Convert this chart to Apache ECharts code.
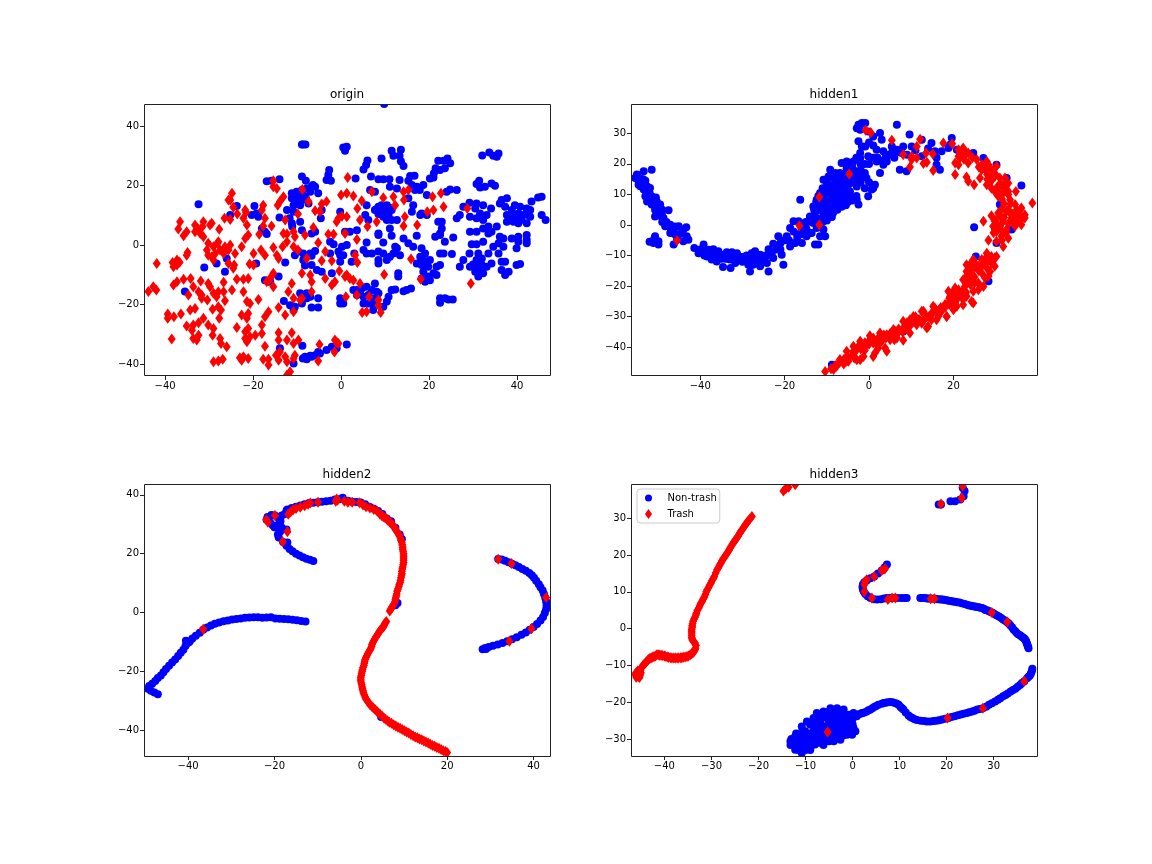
<!DOCTYPE html>
<html>
<head>
<meta charset="utf-8">
<title>t-SNE of hidden layers</title>
<script src="https://cdn.jsdelivr.net/npm/echarts@6/dist/echarts.min.js"></script>
<style>
  html, body { margin: 0; padding: 0; background: #fff; }
  #chart { width: 1152px; height: 864px; }
</style>
</head>
<body>
<div id="chart"></div>
<script>
// values, [x, y] in axis units
const panelTitles = ['origin', 'hidden1', 'hidden2', 'hidden3']

const originNonTrash = [
  [9.8,47.4],[-8.9,33.8],[-8.6,33.8],[-8.1,33.8],[0.5,32.8],[1.3,33],[0.9,31.7],[9.2,29.1],[11.5,31.7],[11.9,30],[13.6,32],[13.3,30],[13.6,28.2],[14.2,26.6],[6,28.4],[5.7,26.9],[5.1,25.4],
  [-2.7,25.2],[-2.9,23.5],[-3.3,21.9],[-2.3,21.6],[3.3,22.4],[6.8,23],[8.5,22.1],[9.6,22.1],[11,22.1],[13.3,21.9],[-8.9,23],[-8,21.6],[-6.4,20.2],[-5.9,19.6],[-5.2,17.4],[-16.9,21.4],[-14,22.1],[-15.8,21.6],
  [15.7,23.2],[16.7,23.3],[15.3,21.6],[16.1,20.2],[17.2,19.6],[18.7,20.2],[17.9,18.5],[16.8,18.5],[22.1,28.3],[23.3,28.3],[24.2,29.1],[24.8,27.5],[23.6,25.8],[22.5,25.2],[21.5,25.8],[21.1,24.1],[20.2,22.4],[21,22.7],
  [32.1,30.1],[33.7,31.1],[34.6,30],[35.8,30.8],[35.4,29.7],[31.4,21.6],[30.8,20.5],[31.6,19.3],[32.7,19.6],[34.2,20.7],[35,19.9],[26.3,18.5],[24,17.9],[24.8,18.7],[19.5,16.8],
  [7.7,11.8],[8.5,12.9],[9.2,13.4],[10.4,13.4],[11.5,11.8],[10.8,10.1],[9.6,9.5],[8.5,10.4],[9.6,11.8],[8.9,11.5],[10.4,11.5],
  [-11.2,17.4],[-10.1,17.9],[-8.9,17.4],[-8.2,16.2],[-11.2,15.7],[-10.1,15.7],[-8.9,15.1],[-8,15.7],[-10.8,13.4],[-9.3,13.4],[-7,17.9],[-6.7,19.6],[-7.8,19],[-8.9,18.5],[-7.4,14],
  [-32.4,13.7],[-23.7,13.1],[-25.2,10.1],[-19.7,13.1],[-20.3,10.1],[-18.8,9.5],[-19.2,10.6],[-14,9.3],[-12.3,11.8],[-10.8,11.2],[-11.7,9],[-11.2,7.3],[-11.1,6.2],[-9.3,7.8],[-8.9,5],[-18,5.6],[-16.9,3.7],[-17.3,4.5],[-6.7,3.9],[-5.9,4.5],[-4.6,9],[-4.4,11.8],[-0.2,11.2],
  [-10.5,-3.4],[-9.7,-2.2],[-8.6,-2.8],[-7,-2.8],[-5.9,-2],[-6.7,-3.6],[-12.7,-5.9],[-8.2,-6.9],[-6.7,-6.7],[-5.5,-8.4],[-4.4,-9],[-2.1,-9.5],[-8.6,-5],
  [-2.5,1.1],[-1.7,0.3],[0.2,-0.6],[1.3,0],[-0.6,-2.2],[-0.2,-3.4],[0.5,-3.4],[-0.2,-5.6],[-2.5,-2.8],[0.9,4.5],[2,4.5],[3.6,5],
  [2.4,-5.6],[3,-2.8],[5.1,-1.7],[5.8,-2.8],[7,-2.8],[8.5,-2.2],[9.6,-2.8],[8.5,-5],[8.5,-6.2],[10.4,-5],[11.1,-3.9],[12.7,-1.1],[12.3,-0.6],[11.9,-2.8],[13.4,-3.4],
  [5.8,0.9],[8.5,3.9],[9.6,0.9],[11.5,3.1],[8.5,3.4],[14.2,2.2],[15.3,0.6],[16.4,-0.6],[17.2,3.1],[11.1,5.6],[12.7,8.4],[11.5,8.4],[10.4,8.4],[5.5,10.1],[6.2,8.4],[5.8,13.4],[7.7,17.9],[6.6,18.5],[11.1,19.6],[12.7,19],[15.3,15.7],[16.4,13.4],[16.1,11.2],[18,10.1],[18.3,10.6],[19.5,10.1],
  [18.3,-1.1],[19.1,-2.8],[18,-3.9],[18.7,-5],[17.2,-6.2],[18.3,-6.7],[19.5,-6.2],[20.2,-5],[19.8,-7.3],[18.7,-9],[19.8,-10.6],[21,-9.5],[21.7,-10.1],[22.5,-6.7],[21.7,-7.3],[19.1,-12.3],[20.2,-11.8],[18.3,-11.2],[22.5,-2.8],[23.3,-2.8],[25.2,-3],[21.4,2.8],[22.5,3.9],[23.6,1.1],[25.5,2.5],[22.1,7.8],[22.9,7.8],[22.9,5.6],[22.5,3.4],
  [22.5,-17.9],[23.6,-17.9],[24.4,-18.3],[25.4,-18.3],[22.5,-19.4],[14.2,-15.5],[14.9,-15.1],[15.9,-14.6],[11.5,-15.1],[12.3,-14.9],[10.8,-17.4],[10.4,-19],[13,-9.5],[13,-10.6],[7.7,-12.9],
  [3.6,-15.1],[4.7,-14.6],[5.8,-14],[7,-15.1],[8.1,-15.7],[3.6,-16.8],[5.1,-17.4],[6.2,-16.8],[7,-17.9],[7.7,-19.6],[7.3,-21.8],[8.5,-16.2],[4.3,-16.2],[2.8,-15.1],[6.2,-19.6],[5.1,-19.6],[-0.2,-17.9],[0.5,-19.6],[-0.2,-19.6],[7,-19.6],[9.6,-20.7],[8.1,-17.9],
  [-9.3,-16.2],[-7.8,-17.9],[-7,-17.4],[-5.2,-17.9],[-13,-18.8],[-11.6,-20.2],[-10.5,-20.7],[-8.9,-19.6],[-6.7,-21],[-5.2,-21],[-10.8,-21.8],[-7.8,-16.2],
  [-35.5,-15.6],[-31.1,-7.5],[-28.3,-6.2],[-26,-4.5],[-26.4,-9],[-19.3,-6.2],[-14.2,-10.6],[-16.1,-12.3],[-17.3,-11.8],
  [-8.7,-38.1],[-8.2,-37.5],[-7,-37.2],[-5.9,-37],[-4.8,-36.4],[-3.3,-35.3],[-2.1,-34.2],[-1,-34.7],[1.3,-33.4],[-7.8,-38.4],[-6.7,-37.5],[-5.2,-35.9],[-8.8,-33.8],[-13.9,-34.7],[-10.8,-39.8],
  [27,10.1],[26.3,9],[27.8,12.9],[29.2,14.2],[30.8,14],[32.3,13.4],[30.5,12.3],[31.6,10.6],[33.1,10.1],[34.1,12.3],[29.3,9.5],[30.8,9],[32.3,8.4],[29.3,4.5],[30.8,4.5],[32.3,5.6],[33.5,6.2],[34.2,4.5],[33.5,3.9],[35.4,6.2],
  [36.5,15.1],[37.7,15.7],[36.1,14],[37.3,12.9],[39.5,13.4],[40.7,12.9],[42.2,12.3],[43.3,14.6],[44.8,16],[45.6,16.2],[45.6,10.1],[46.5,8.4],[36.1,2.8],[35.8,0.6],[34.6,-0.6],[36.9,2.2],[38.8,2.2],[40.3,2.8],[42.2,3.4],[42.2,1.7],[40.3,1.1],[42.2,0.6],[39.9,-1.1],
  [37.7,7.8],[39.2,7.8],[40.3,7.3],[42.2,7.3],[37.7,10.1],[39.2,9.5],[41.4,10.1],[42.6,10.1],[43,11.8],[40.3,10.6],[38.8,11.8],[29.7,0.3],[30.8,0.3],[32.3,1.1],[29.2,-2.8],[31.2,-2.8],[33.5,-2.8],[35.8,-2.8],[36.9,-0.6],
  [27.8,-5],[27,-7.3],[29.3,-7.3],[30.8,-5],[32,-4.5],[30.8,-7.3],[32,-6.7],[33.1,-7.3],[31.2,-10.6],[32.3,-9.5],[30.5,-9],[34.2,-6.2],[36.5,-5.6],[37.3,-5.6],[36.5,-8.4],[38.1,-9],[37.3,-10.1],[39.9,-6.7],[40.7,-6.4],
  [8,12],[9,12.5],[10,12.5],[11,12.5],[9,10.5],[10,10.5],[-10,16.5],[-9.5,14.5],[40,9],[41,8.5],[43,9.5],[38.5,8.8],[31,-6],[31.5,-8.5],[30,-6.5]
]
const originTrash = [
  [-43.8,-15.6],[-42.7,-14],[-42,-15.1],[-41.9,-6.2],[-38.3,-5.9],[-37.3,-5],[-38.1,-7.3],[-37.3,-6.7],[-36.7,-5.8],[-38.1,-13.4],[-37.3,-12.3],[-35.8,-11.5],[-34.2,-11.2],[-34.7,-16.8],[-31.7,-16.8],[-33.6,-14],[-32.4,-15.7],[-31.9,-12.1],[-30.2,-12.9],[-29.8,-14],[-31.7,-17.9],[-29,-16.2],[-27.9,-15.7],[-26.7,-15.7],[-28.3,-17.4],[-30.4,-18.5],[-26.4,-18.7],[-26.7,-12.5],[-24.8,-15.1],[-23.7,-11.5],[-22.2,-11.5],[-21.1,-11.2],[-22.2,-15.7],[-21.4,-19],[-20.7,-19.6],[-18.8,-18.3],
  [-39.4,-23.2],[-39.4,-24.6],[-38,-24.1],[-36.4,-23.2],[-34.3,-21.8],[-33.2,-21.3],[-29.2,-21.6],[-27.9,-20.7],[-27.3,-21.8],[-35.1,-27.2],[-33.6,-26.9],[-32.4,-26.1],[-31.3,-24.6],[-30.2,-26.9],[-29,-28],[-27.7,-24.6],[-33.9,-28.6],[-32.4,-30.3],[-33.6,-31.4],[-32.8,-31.9],[-38.5,-31.6],[-29.2,-30.3],[-27.5,-31.4],[-27.3,-33.1],[-26,-34.2],[-23.7,-27.7],[-22.6,-23.5],[-21.4,-24.6],[-21.1,-23],
  [-29,-39.2],[-27.9,-39],[-26.9,-38.4],[-23,-37.9],[-22.2,-37.5],[-22.6,-38.7],[-21.1,-38.1],[-17.7,-38.4],[-16.5,-38.4],[-16.5,-40.3],[-17.3,-34],[-21.8,-29.1],[-21.1,-28],[-21.8,-31.4],[-20.7,-30.8],[-21.4,-32.5],[-19.5,-30.3],[-18,-29.7],[-18,-26.9],[-17.3,-24.1],[-16.5,-22.4],[-14.2,-21],[-12.7,-23.5],[-10.8,-22.4],[-9.3,-18.5],[-6.7,-15.7],[-6.7,-12.3],[-7,-10.1],[-8.9,-9.5],
  [-36.6,7.8],[-37,5.4],[-35.8,3.1],[-35.1,4.5],[-33.2,6.7],[-33.2,4.5],[-31.3,7.8],[-29.8,6.7],[-29.4,7.3],[-32,3.9],[-31.3,2.8],[-27.7,5.3],[-26.5,9],[-25.2,8.6],[-23.6,10.4],[-25.2,15.1],[-24.8,17.4],[-25.6,15.1],[-24.5,12.7],[-21.8,11.8],[-22.2,9],[-21.4,6.7],[-21.6,10.9],[-17.7,13.4],[-18,11.8],[-17.3,9],[-17.7,6.4],[-15.8,6.4],[-18.6,3.6],[-21.1,3.4],[-21.8,2.2],[-22.6,-0.6],[-34.9,-2.5],[-35.1,-3.4],
  [-30.2,0.6],[-29,-0.6],[-28.1,0.6],[-26.4,-0.6],[-30.2,-3.4],[-29,-5],[-26.7,-2.8],[-25.2,0],[-24.1,-2.8],[-24.3,-6.7],[-24.5,-7.8],[-25.6,-6.2],[-20.8,-6.4],[-19.9,-6.7],[-19.9,-2.8],[-18.2,-1.7],[-17.3,-3.4],[-15.4,-0.8],[-14.6,-3.4],[-14.2,-4.5],[-13.3,-0.6],[-12.3,1.1],[-13.1,3.9],[-12.3,3.7],[-10.8,4.5],[-10.5,2.8],[-8.2,3.4],[-10.8,-0.6],[-9.8,-1.7],[-7.8,-4.5],[-4.4,-5.3],[-5.2,0.8],[-6.3,5.9],[-2.9,3.6],[-1.7,3.6],[-3.6,-2.2],[-2.1,-5.3],
  [-3.6,-11.2],[-2.1,-13.4],[-1.4,-12.3],[-0.4,-8.7],[1.3,-10.1],[2,-11.2],[2.8,-11.8],[4.3,-12.9],[0.9,-10.6],[3.6,-16.8],[1.1,-17.4],[6.4,-17.4],[8.5,-18.5],[8.5,-20.2],[4.8,-22.7],[5.8,-22.4],[9,-22.7],[9.8,-9.9],[3.7,-5.9],[3.2,-3.4],[0.9,3.9],[3.6,1.9],[4.3,8.4],[4.7,14.9],[3.7,12.3],[6,6.2],[8.1,7.8],[1.3,9.5],[0.2,9.7],[-0.6,9],[-1,7.8],[0,16.8],[1.3,17.4],[2.8,16.5],[1.5,22.7],[7,17.9],[9.6,15.9],[11.9,16.2],[12.3,13.4],[14.2,17.9],[15.3,18.5],[14.3,15.1],[14.5,9.5],[14.2,6.4],[17.3,6.7],[15.9,-4.7],[18.1,-11.5],[19.6,11.2],[21,11.8],[20.8,16.2],[22.7,17.4],[23.3,12.9],[28.7,12.3],[29.5,-12.9],
  [-15.4,21.6],[-15.4,19.6],[-14.6,19],[-14.4,13.4],[-13.1,16.2],[-13.9,14.6],[-12.7,8.4],[-9.8,10.4],[-8.8,18.7],[-7.4,14.6],[-5.9,11.5],[-4.8,11.2],[-4.4,13.8],[-3.3,14.6],[-15.4,-9.5],[-15.8,-10.6],[-16.5,-12],[-16.9,-12.3],[-15.4,-14],[-11.2,-12.9],[-12,-15.7],[-8.9,-17.9],[-10.8,-17.9],
  [-14.2,-29.5],[-14.2,-31.9],[-11.2,-29.5],[-12.3,-31.9],[-10.8,-33.1],[-9.7,-31.9],[-14.8,-37],[-13.9,-35.9],[-12.7,-37.5],[-12.3,-39.2],[-10.5,-37],[-10.8,-38.1],[-14.2,-38.7],[-11.6,-42.6],[-12.3,-43.7],[-4.9,-33.4],[-5.2,-39],[-1.4,-31.9],[-1,-32.7],[-1.5,-35.9],[-0.6,-33.1],
  [-30.5,-1.7],[-28.6,-2.8],[-27.5,-1.7],[-25.6,-1.7],[-27.9,1.1],[-29.4,-3.9],[-32.6,5.6],[-31.5,6.2]
]

const hidden1NonTrash = [
  [-51.5,18.1],[-53.4,17.6],[-55,16.5],[-55.4,15.4],[-54.6,14.3],[-54.2,12.7],[-54.6,13.2],[-53,13.2],[-51.9,12.1],[-53.4,11.6],[-53,9.4],[-51.5,9.4],[-52.6,7.7],[-50.3,7.7],[-51.5,6.7],[-49.5,6.7],[-50.7,5],[-49.1,3.9],[-47.5,4.8],[-50.7,2.8],[-48.7,2.3],[-48.3,-0.4],[-47.1,0.1],[-46.3,-1.5],[-45.1,-0.4],[-43.3,-0.7],[-44.4,-2.6],[-43.2,-3.7],[-42.8,-4.8],[-45.5,-4.8],[-46.3,-6.4],[-51.1,-5.9],[-49.9,-5.3],[-50.7,-3.7],[-49.9,-6.4],[-44,-5.3],[-47.1,-2.6],[-52,-5.5],[-50.9,-4.6],[-54,15],[-53,14.5],[-52,10.5],[-50.5,9],[-49,1],
  [-54.5,15.5],[-53.5,15],[-52.5,12.5],[-52.5,10],[-51.5,8],[-50.5,6],[-49,5],[-49.5,3],[-48,1],[-47,-1],[-46,-3],[-45,-3],[-44,-1.5],[-46,-0.5],
  [-41.4,-7.5],[-40.4,-9.2],[-39.2,-6.4],[-39.6,-8.3],[-38,-8.1],[-36.9,-7.9],[-35.7,-8.6],[-38.4,-10.3],[-37.3,-11.3],[-36.1,-11.9],[-34.5,-9.7],[-33.7,-8.9],[-32.5,-8.9],[-31.3,-9.2],[-30.9,-10.3],[-32.9,-11.3],[-31.7,-12.4],[-34.6,-13.7],[-32.8,-14.1],[-29.4,-11.3],[-28.6,-13],[-28.2,-15.2],[-27.8,-9.2],[-27,-8.6],[-25.8,-9.7],[-26.6,-11.3],[-25.8,-13.5],[-23.8,-15.2],[-24.2,-12.4],[-22.7,-10.8],[-20.7,-9.7],[-20.3,-13],[-23.8,-7.9],[-22.7,-6.1],[-21.5,-3.7],[-37,-10],[-35,-11],[-33.5,-11],[-30,-12],[-27.5,-13],[-26,-12],[-24.5,-10],
  [-40,-8],[-39,-10],[-38,-10],[-37,-9],[-36,-10],[-35,-10],[-34,-11],[-33,-10],[-32,-10],[-31,-11],[-30,-10.5],[-29,-10],[-28,-11],[-27,-10],[-26,-10],[-25,-11.5],[-24,-10],[-23,-9],[-22,-8],[-21,-6],[-20,-5],[-21,-8],
  [-18.7,-7],[-19.5,-3.7],[-17.9,-2.1],[-17.9,1.2],[-16.7,1.2],[-18.7,-1],[-17.5,-5.9],[-15.9,-5.9],[-14.8,-3.7],[-14,-2.6],[-12.4,-1],[-10.8,-1.5],[-10.4,-3.7],[-12,-6.4],[-12.8,-6.4],[-14,2.8],[-12.8,3.9],[-13.2,6.1],[-12.4,8.3],[-11.6,10.5],[-12.4,6.7],[-11.2,5.6],[-10,5.6],[-8.4,5.6],[-9.6,2.8],[-8.8,2.6],[-13.2,0.7],[-14.8,-1.5],[-16.3,8.3],[-10.8,14.8],[-9.2,18.1],[-9.6,15.9],[-8.4,15.4],[-10,12.6],[-9.2,10.5],[-7.7,13.2],[-6.9,17],[-6.5,20.3],[-5.3,20.8],[-7.7,9.4],[-6.1,8.3],[-4.5,9.4],[-2.9,8.3],[-2.5,6.7],[-0.2,9.4],[1.4,13.2],[0.6,11.6],[-1.3,15.9],[-2.9,12.6],[-2.9,15.9],[-5.3,18.6],[-3.7,20.8],[-2.1,21.9],[-0.6,15.4],[-3.7,18.1],[-4.5,13.7],[-6.9,12.6],[-10.8,7.2],[-11.2,2.3],[-13.6,-2.6],[-11.6,-3.7],[-8,11],[-7,11],[-6,12],[-9,8],[-8,7],[-10.5,9],[-8,15],[-7,15],[-5.5,15],[-4,16],[-11,8],[-15,-1],[-16,-3],[-17,-4],[-15,1],
  [-19,-5],[-18,-6],[-17,-3],[-16,-1],[-15.5,0.5],[-14.5,1],[-13.5,1.5],[-13,3],[-12,2],[-11,1],[-10,1.5],[-9,3.5],[-13,5],[-12,5],[-11,4.5],[-10.5,3.5],[-9.5,4.5],[-8.5,4],[-7.5,5],[-6.5,6],[-5.5,6.5],[-12.5,7.5],[-11.5,7],[-10.5,6.5],[-9.5,7],[-8.5,6],[-7.5,7],[-6.5,7.5],[-5,7.5],[-4,8],[-3,9.5],[-12,9.5],[-11,10],[-10,10.5],[-9,11.5],[-8.5,10],[-7.5,9],[-6.5,9.5],[-5.5,10],[-4.5,11],[-11,12],[-10,14],[-9,13],[-8,13],[-7,14],[-6,14],[-5,13],[-9,16],[-8,17],[-7,16],[-6,16.5],[-5,17],[-4,17.5],[-3,17],[-2,18],[-1,17],[0,14],[1,12],[-1,12],[-2,14],[-3,14],[-4,19],[-5,20],[-3,22],[-2,20],[-1,20],[0,20],[1,22],[2,22],[3,21],[4,22],[5,23],[6,22],[7,24],
  [-2.5,32.8],[-1.7,33.4],[-0.9,33.4],[-2.9,31.7],[-2.1,31.2],[-0.2,30.6],[1,29],[2.6,30.1],[3,27.9],[6.6,32.8],[9.6,29.6],[-2.5,27.4],[-1.7,25.7],[-0.9,25.7],[-2.1,23.6],[-0.2,22.5],[1.8,24.6],[3.4,24.1],[1.8,20.8],[3.4,19.7],[4.2,20.8],[2.6,17],[5.4,25.7],[6.6,24.6],[8.1,25.7],[10.1,25.7],[12.5,27.9],[14.8,26.8],[15.6,24.1],[17.2,24.1],[18.8,25.2],[19.6,28.5],[19.2,26.3],[7.3,18.1],[8.9,17.6],[7.7,23.6],[12.5,22.5],[16.8,18.1],[16,19.7],[20.8,24.6],[24.7,23.6],[27.1,21.9],[30.2,19.7],[32.6,15.4],[36.1,12.9],[31,6.7],[24.9,-0.7],[25.3,-10.3],[28.3,-18.4],[33.8,-1.5],[30.2,-5.9],[-8.8,-45.7],[8.1,-34.8],[0,27],[1,26],[4,23],[5.5,24],[9,23],[11,24.5],[14,25],[16,22]
]
const hidden1Trash = [
  [-45.5,-5.1],[-16.5,-0.2],[-11.8,0.1],[-11.8,9.2],[-4.7,16.7],[-0.8,31],[0.4,30.3],[5.4,27.7],[8.1,23],[10.1,22.5],[11.3,21.9],[9.7,19],[10.1,21.4],[12.1,28.1],[11.3,25.7],[13.5,23.6],[15.1,23.2],[12.9,20.1],[13.7,20.5],[15.2,17.8],[17.6,26.8],[19.7,26.6],
  [20.4,20.3],[21.2,24.6],[22.3,25.2],[23.5,23.6],[21.5,21.9],[21.2,19.7],[23.5,20.3],[20.4,16.5],[23.1,15.7],[23.5,14.3],[24.9,13.2],[25.5,21.4],[26.7,19.7],[27.9,20.8],[27.5,18.1],[26.3,15.4],[27.9,13.2],[29,18.1],[30.2,19.2],[29.8,15.9],[31,15.4],[31.8,13.2],[30.2,12.1],[30.6,9.4],[33,13.7],[31.8,10.5],[34.8,11],[33.4,8.3],[38.7,7.2],[34.6,6.7],[36.1,5.6],[31.4,5],[32.6,4.5],[30.6,3.9],[29.8,1.2],[31.8,1.2],[33.8,2.3],[35,3.9],[36.9,3.4],[36.1,2.3],[27.1,1.2],[29.4,-0.4],[30.2,-2.1],[32.6,-1.5],[34.6,-0.4],[36.1,0.1],[31.4,-3.7],[28.3,-5],[30.2,-5.3],[31.8,-7],[33,-4.3],[28,15],[29,12],[33,11],[32,7],[34,1],[30.5,-0.5],
  [22,23],[22.5,21.5],[24.5,22],[26,19],[28.5,19],[28,16.5],[29,14.5],[30,16.5],[31,13.5],[30.5,11],[32,12],[33,10],[31.5,8.5],[33.5,7],[35,5],[33,5],[31,3],[29,3],[32,2.5],[34,3.5],[35.5,2],[33,0.5],[31,-1],[29.5,-2.5],[35,0.8],[30,1.5],[31.5,-5],[32.5,-2.5],
  [29,15.4],[31,12.7],[32.6,11.6],[29.8,11],[34.2,2.3],[35.8,1.2],[36.9,2.3],[31,-0.4],[29.8,-1.5],[31.8,-2.6],[35.8,5],[33.4,3.9],[26.7,18.1],[28.3,19.7],[23.1,23.6],[21.2,22.5],[32.2,15.4],
  [29.8,-10.8],[29,-12.4],[27.9,-10.3],[26.7,-11.3],[25.1,-12.4],[23.9,-13],[23.1,-15.2],[24.3,-16.2],[26.7,-15.7],[27.9,-14.1],[28.7,-15.2],[27.5,-17.3],[25.9,-19],[23.5,-18.4],[22.7,-20.1],[24.7,-21.7],[23.1,-23.3],[21.2,-21.2],[20,-21.7],[19.2,-23.3],[18.8,-25.5],[20.8,-26.6],[22.3,-24.4],[24.3,-25],[20.4,-23.9],[18.4,-29.9],[15.6,-27.2],[16.4,-29.9],[14.8,-31],[12.9,-28.2],[13.3,-30.4],[11.7,-31],[10.5,-31.5],[9.7,-31],[8.1,-33.7],[9.3,-33.2],[12.5,-32.1],[14,-33.2],[6.2,-34.8],[4.2,-35.9],[5,-37.5],[3.8,-40.2],[2.2,-37],[0.2,-37.5],[-0.6,-39.1],[1.4,-41.9],[-2.5,-39.7],[-3.7,-41.3],[-1.3,-43],[-5.3,-43],[-2.9,-44.1],[-6.9,-44.6],[-7.7,-46.2],[-8.4,-47.3],[-10.4,-47.9],[8.1,-37.7],[29,-10.3],[25.9,-13.5],[22.3,-21.7],[20.4,-25.5],[16.8,-27.7],[11.3,-32.6],[2.2,-40.2],[1,-38.6],[-1.7,-40.2],[-4.9,-44.6],[-6,-45.5],[-3.5,-43.5],[-1,-41],[0,-39],[2,-39.5],[3,-38],[5,-35.5],[7,-34],[9,-32],[11,-30],[13,-29],[15,-29],[17,-28.5],[19,-26],[21,-24],[23,-22],[24,-19.5],[25,-17],[26,-15],[27,-13],[28,-12],[21.5,-22.5],[18,-27],
  [28,-11],[27,-12],[26,-14],[25,-14],[24,-14.5],[23,-17],[25,-19],[24,-18],[22,-22],[21,-23],[20,-24],[19,-24],[19.5,-25.5],[18,-26],[17,-27],[16,-28],[15,-28.5],[14,-30],[13,-31],[12,-31],[11,-32],[10,-32.5],[9,-33.5],[8,-35],[7,-35],[6,-36],[5,-36.5],[4,-37],[3,-37.5],[2,-38],[1,-37],[-1,-38.5],[-2,-40.5],[-3,-41],[-4,-42.5],[-5,-43.5],[-6,-44],[-7,-45],[-8,-46],[-9,-47],[3.5,-36],[6,-37.5],
  [-6.9,-44],[-5.3,-41.3],[-3.7,-39.7],[-2.1,-38],[0.2,-36.2],[2.6,-35.3],[5.8,-34.2],[8.1,-31.5],[10.5,-29.9],[12.5,-28.2],[15.2,-26.6],[18.8,-21.7],[20.4,-20.6],[22.3,-17.9],[23.1,-13],[24.7,-11.3],[27.9,-9.2],[30.2,-10.3],
  [-5.3,-44.6],[-2.1,-44.1],[1,-43],[4.2,-41.3],[6.6,-37],[9.7,-35.3],[13.7,-33.7],[16,-31],[18.4,-29.9],[20,-27.7],[22.3,-26.1],[24.7,-25.5],[25.9,-21.2],[27.1,-20.1],[28.3,-16.8],[29.8,-13.5]
]

const hidden2NonTrash = [
  [-47,-27.8],[-47.8,-27.2],[-48.6,-26.6],[-49.3,-25.9],[-49,-25],[-48.3,-24.2],[-47.6,-23.3],[-47,-22.3],[-46.3,-21.4],[-45.7,-20.3],[-45.1,-19.2],[-44.4,-18.1],[-43.7,-17],[-43,-16],[-42.3,-14.8],[-41.7,-13.7],[-41.1,-12.7],[-40.6,-11.4],[-40.1,-10.4],[-39.6,-9.8],[-40.5,-9.6],[-39.8,-10.1],[-39,-8.8],[-38.2,-7.9],[-37.3,-6.9],[-36.5,-5.9],[-35.6,-5.1],[-34.7,-4.4],[-33.8,-3.8],[-32.8,-3.4],[-31.8,-3],[-30.8,-2.7],[-29.8,-2.4],[-28.8,-2.2],[-27.8,-2],[-26.8,-1.8],[-25.8,-1.7],[-24.8,-1.6],[-23.8,-1.6],[-22.8,-1.8],[-21.8,-1.7],[-20.8,-1.6],[-19.8,-2],[-18.8,-2.1],[-17.8,-2.2],[-16.8,-2.3],[-15.8,-2.5],[-14.8,-2.6],[-13.8,-2.9],[-12.8,-3.1],
  [31.8,18.2],[32.6,18],[33.4,17.6],[34.2,17.1],[35,16.6],[35.8,16.1],[36.6,15.5],[37.4,14.8],[38.2,14.2],[39,13.4],[39.6,12.7],[40.1,11.8],[40.6,10.8],[41.2,9.6],[41.6,8.6],[42.1,7.5],[42.4,6.3],[42.7,5],[42.9,3.7],[43,2.4],[42.9,1.1],[42.6,-0.2],[42.2,-1.5],[41.6,-2.7],[40.8,-3.9],[40,-4.9],[39.1,-5.9],[38.2,-6.8],[37.2,-7.6],[36.1,-8.4],[35,-9.1],[33.9,-9.8],[32.8,-10.4],[31.7,-10.9],[30.6,-11.3],[29.6,-11.7],[28.8,-12.1],[28.2,-12.5],[29,-12.4],
  [-11,17.5],[-11.8,17.9],[-12.6,18.3],[-13.4,18.8],[-14.2,19.4],[-15,20],[-15.8,20.8],[-16.5,21.6],[-17.2,22.7],[-17,23.8],[-18,24],[-19,25.5],[-19.2,26.5],[-18.7,27.5],[-19,28.5],[-18.4,29],[-17.2,28.2],[-20,29],[-20.4,29.7],[-21,30.6],[-21.8,31.5],[-21.6,32.5],[-20.7,33.2],[-19.9,33],[-19,32],[-18.6,31],[-19,30],[-18.3,33],[-17.6,33.5],[-17.2,34.7],[-17,35],[-16,35.5],[-15,36],[-14,36.4],[-13,36.8],[-12,37.2],[-11,37.3],[-10,37.5],[-9,37.7],[-8,37.8],[-7,38],[-6,38.4],[-5,38.5],[-4.2,39],[-3,38],[-2,37.7],[-1,37.6],[0,37.4],[1,36.8],[2,36],[3,35.3],[4,34.5],[5,33.5],[6,32],[7,31],[8,28.8],[9,26.5],[9.5,25],
  [8.5,3.2],[8,2.5],[4.7,-35.5]
]
const hidden2Trash = [
  [-36.5,-5.7],[31.8,18.1],[34.9,16.7],[42.9,5.1],[39.5,-5.5],[34.4,-9.8],[-17,27.5],[-18.1,24.1],[-21.9,31.5],[-19.9,33],[-21.5,30.7],
  [-16.8,33.4],[-16.3,34.2],[-15.7,34.9],[-15,35.4],[-14,35.8],[-13,36.3],[-12.2,36.8],[-11.7,37.2],[-9.9,37.5],[-5.8,37.8],[-5.4,38.2],[-5.6,38.6],[-3.8,37.8],[-3,37.5],[-2,37.5],[-0.3,37.3],[0.5,36.6],[1.2,36],[2.1,35.5],[3,35],[3.8,34.4],[4.4,33.5],[5.2,32.6],[6,31.8],[6.7,30.8],[7.4,29.8],[8,28.5],[8.5,27.2],[9,26],[9.3,24.5],[9.6,23],[9.7,21.5],[9.9,20],[9.9,18.5],[9.9,17],[9.7,15.5],[9.5,14],[9.4,12.5],[9.2,11],[8.9,9.5],[8.6,8],[8.3,6.3],[8.1,5],[7.9,3.6],[7.5,2.5],[7.1,1.5],[6.7,0.5],
  [9.5,13.2],[9.6,14.8],[9.8,16.2],[9.9,17.8],[9.9,19.2],[9.8,20.8],[9.7,22.2],[9.5,23.8],[9.2,25.2],[8.8,26.6],[8.2,27.8],[7.7,29.2],[7,30.3],[6.3,31.3],[5.6,32.2],[4.8,33],[9.3,11.8],[9.1,10.2],[8.8,8.8],[8.4,7.2],[8.2,5.6],[8,4.3],[7.7,3],[7.3,2],[6.9,1],
  [5.9,-3.1],[5.5,-3.9],[5.2,-4.9],[4.7,-5.7],[4.2,-6.7],[3.8,-7.7],[3.2,-9],[2.8,-10.2],[2.5,-11.5],[2.1,-12.8],[1.6,-14],[1.2,-15.3],[0.9,-16.6],[0.7,-18],[0.4,-19.4],[0.2,-20.7],[0,-22],[0,-23.3],[0.2,-24.6],[0.4,-26],[0.6,-27.3],[1,-28.7],[1.5,-30],[2.1,-31.3],[2.9,-32.5],[3.7,-33.6],[4.5,-34.7],[5.3,-35.8],[6.2,-36.8],[7.1,-37.7],[8.1,-38.6],[9.1,-39.4],[10.1,-40.2],[11.1,-41],[12.1,-41.9],[13.1,-42.6],[14.1,-43.3],[15.1,-44],[16.1,-44.8],[17.1,-45.5],[18.1,-46.2],[19.1,-47],[20,-47.6],
  [5.7,-3.5],[5.4,-4.4],[5,-5.3],[4.4,-6.2],[4,-7.2],[3.5,-8.3],[3,-9.6],[2.6,-10.8],[2.3,-12.2],[1.8,-13.4],[1.4,-14.7],[1,-16],[0.8,-17.3],[0.5,-18.7],[0.3,-20],[0.1,-21.4],[0,-22.7],[0.1,-24],[0.3,-25.3],[0.5,-26.6],[0.8,-28],[1.2,-29.4],[1.8,-30.7],[2.5,-31.9],[3.3,-33],[4.1,-34.2],[4.9,-35.2],[5.7,-36.3],[6.6,-37.3],[7.6,-38.2],[8.6,-39],[9.6,-39.8],[10.6,-40.6],[11.6,-41.5],[12.6,-42.3],[13.6,-43],[14.6,-43.7],[15.6,-44.4],[16.6,-45.2],[17.6,-45.9],[18.6,-46.6],[19.6,-47.3]
]

const hidden3NonTrash = [
  [18.3,33.7],[18.8,33.7],[20.8,34.6],[21.8,34.6],[22.9,35.1],[23.6,36],[23.8,37.4],[23.4,38.3],
  [7.3,17.4],[6.8,16.6],[6.2,15.8],[5.4,15],[4.6,14.2],[3.8,13.7],[3,13.1],[2.5,12.6],[2.2,12],[2.1,11.3],[2.2,10.6],[2.4,10],[2.7,9.4],[3.2,8.8],[3.8,8.3],[4.5,8],[5.2,7.9],[6,8],[6.7,8.2],[7.3,8.3],[8,8.3],[8.7,8.3],[9.5,8.3],[10.3,8.3],[11,8.3],[11.5,8.3],
  [14.4,8.3],[15,8.3],[15.8,8.2],[16.6,8.2],[17.2,8.1],[18,8],[18.8,7.9],[19.6,7.8],[20.4,7.6],[21.3,7.4],[22.2,7.2],[23.2,6.9],[24.3,6.5],[25.2,6.2],[26,6],[26.8,5.8],[27.5,5.6],[28.2,5.1],[28.9,4.8],[29.6,4.4],[30.4,3.8],[31.2,3.2],[32,2.5],[32.8,1.8],[33.5,0.9],[34.2,-0.2],[34.9,-1.2],[35.6,-1.8],[36.2,-2.4],[36.7,-3],[37,-3.9],[37.2,-4.6],[37.4,-5.3],
  [20,7.7],[20.9,7.5],[21.8,7.3],[22.7,7.1],[23.8,6.7],[24.8,6.3],[25.6,6.1],[26.4,5.9],[27.2,5.7],[27.9,5.4],[28.6,5],[29.2,4.6],[30,4.1],[30.8,3.5],[31.6,2.9],[32.4,2.2],[33.2,1.4],[33.9,0.4],[34.6,-0.7],[35.2,-1.5],[35.9,-2.1],[36.5,-2.7],[36.9,-3.4],[37.1,-4.2],[37.3,-4.9],[18.4,8],[19.2,7.9],[17.6,8.1],[16.2,8.2],[15.4,8.3],
  [38.2,-10.9],[38.1,-11.6],[37.7,-12.7],[37.1,-13.5],[36.5,-14.3],[35.6,-15.3],[34.6,-16.3],[33.6,-17.1],[32.5,-18],[31.4,-18.9],[30.3,-19.8],[29,-20.7],[27.7,-21.6],[26.5,-22],[25.4,-22.5],[24.3,-22.9],[23,-23.3],[21.7,-23.8],[20.4,-24.3],[19,-24.7],[17.8,-25],[16.5,-25.2],[15.2,-25.1],[13.7,-24.8],[12.7,-24.3],[11.9,-23.6],[10.8,-22],[10.2,-21.3],[9.8,-20.7],[9,-20.2],[8,-19.9],[7,-20.1],[6.2,-20.4],[5.5,-20.7],[4.6,-21.3],[3.8,-22],[3,-22.5],[2,-23],[0.9,-23.4],
  [37.9,-12.2],[37.4,-13.1],[36,-14.8],[35.1,-15.8],[34.1,-16.7],[33,-17.6],[32,-18.4],[30.9,-19.3],[29.6,-20.3],[28.4,-21.2],[27.1,-21.8],[25.9,-22.3],[24.8,-22.7],[23.6,-23.1],[22.4,-23.5],[21,-24],[19.7,-24.5],[18.4,-24.9],[17.2,-25.1],[15.8,-25.2],[14.5,-25],[13.2,-24.6],[12.3,-24],[11.3,-22.8],[10.5,-21.6],[9.4,-20.4],[8.5,-20],[7.5,-20],[6.6,-20.2],[5,-21],[4.2,-21.6],[3.4,-22.2],[2.5,-22.8],[1.5,-23.2],
  [-13.2,-30.6],[-12.2,-29.3],[-11.1,-28.4],[-10.1,-27.9],[-9,-26.1],[-7.6,-22.9],[-6.2,-22.5],[-4.7,-21.6],[-3.3,-21.6],[-1.9,-22],[-0.8,-23.4],[0.2,-22.9],[0.9,-23.8],[2,-22.9],[0.2,-27],[0.6,-27.9],[-0.1,-28.8],[-1.2,-28.8],[-2.6,-30.2],[-4,-30.6],[-6.2,-31.6],[-7.6,-29.7],[-9,-32.5],[-10.8,-33.8],[-12.2,-32.9],[-13.2,-31.6],[-10.8,-26.6],[-9.7,-25.2],[-8.3,-24.3],[-6.9,-25.2],[-5.5,-24.3],[-4,-23.4],[-2.6,-24.3],[-1.2,-25.2],[-2.6,-27],[-4,-27.9],[-5.5,-28.8],[-6.9,-27.9],[-8.3,-27.9],[-9.7,-29.7],[-11.1,-31.6],[-3.3,-29.7],[-5,-30.6],
  [-12,-31],[-11,-30],[-10,-31],[-9,-30],[-12,-32],[-10.5,-32.5],[-9,-31],[-8,-29],[-7,-30],[-6,-29.5],[-8,-26],[-7,-23.8],[-6,-26.5],[-5,-26],[-4,-25],[-3,-26],[-2,-26],[-1,-27],[-3,-23],[-1.5,-23.5],[-5,-22.5],[0,-24.5],[-0.5,-26],[-13,-30],[-11.5,-33],
  [-12.5,-31.5],[-12,-30],[-11,-29],[-11,-32.5],[-10,-30],[-10,-28.5],[-10,-33],[-9,-28.5],[-9,-33],[-8,-31.5],[-8,-30.5],[-8,-28],[-8,-25.5],[-7.5,-26.5],[-7,-31],[-7,-28.5],[-7,-27],[-7,-24.5],[-6,-30.5],[-6,-28],[-6,-27],[-6,-24],[-6,-23],[-5,-29],[-5,-27],[-5,-25],[-5,-23.5],[-4,-29.5],[-4,-28.5],[-4,-26.5],[-4,-24.5],[-4,-22.3],[-3,-29],[-3,-28],[-3,-25],[-3,-24],[-3,-22.5],[-2,-29],[-2,-28],[-2,-27],[-2,-25],[-2,-23],[-1,-28],[-1,-26],[-1,-24],[0,-26],[0,-23.5],[-12,-28.5]
]
const hidden3Trash = [
  [-5.3,-28.1],[36.5,-14.3],[27.7,-21.6],[20.2,-24.3],[32.9,1.8],[29.6,4.4],[16.6,8.1],[17.4,8.1],[7.5,7.9],[8.4,8.3],[9.1,8.3],[4.1,8.3],[2.5,10],[2.5,12],[2.7,12.9],[3,13.3],[4.6,14.2],[6.2,15.8],[6.9,16.3],
  [23.4,38.7],[23.2,35.5],[18.8,33.9],
  [-14.7,37.4],[-14.2,38],[-13.6,38.4],[-12.2,39.1],[-11.6,39.4],
  [-46,-13.2],[-45.3,-13.3],[-45.2,-12.3],[-46.2,-12.4],[-45.7,-11.5],
  [-46,-12.8],[-45.6,-13],[-45.2,-12.8],[-45,-12],[-45.6,-12],[-45.1,-11.3],[-44.8,-10.5],[-44.4,-9.8],[-43.9,-9.1],[-43.4,-8.4],[-42.8,-7.9],[-42.2,-7.6],[-41.6,-7.1],[-41,-7.2],[-40.4,-7.3],[-39.8,-7.5],[-39.1,-7.8],[-38.4,-8],[-37.7,-8],[-37,-8],[-36.3,-7.9],[-35.6,-7.7],[-34.9,-7.4],[-34.2,-6.8],[-33.7,-6.2],[-33.4,-5.3],[-33.3,-4.6],[-33.5,-3.9],[-34,-3.2],[-34.2,-2.4],[-34.2,-1.2],[-34.2,-0.2],[-34.1,0.8],[-33.9,2],[-33.5,3.1],[-33.2,4.2],[-32.7,5.6],[-32.3,6.8],[-31.8,8],[-31.3,9.3],[-30.9,10.6],[-30.4,11.8],[-29.9,13],[-29.4,14.2],[-28.8,16],[-28.3,17.2],[-27.8,18.4],[-27.2,19.5],[-26.6,20.7],[-26.1,21.8],[-25.5,23],[-24.9,24.1],[-24.3,25.2],[-23.7,26.5],[-23.1,27.6],[-22.5,28.7],[-21.9,29.7],[-21.4,30.5],
  [-33.7,2.6],[-33.3,3.7],[-33,4.9],[-32.5,6.2],[-32,7.4],[-31.5,8.6],[-31.1,10],[-30.6,11.2],[-30.1,12.4],[-29.6,13.6],[-29.1,15.1],[-28.5,16.6],[-28,17.8],[-27.5,19],[-26.9,20.1],[-26.3,21.2],[-25.8,22.4],[-25.2,23.6],[-24.6,24.7],[-24,25.9],[-23.4,27],[-22.8,28.2],[-22.2,29.2],[-41.3,-7.1],[-40.7,-7.2],[-40,-7.4],[-39.4,-7.7],[-38.7,-7.9],[-38,-8],[-37.3,-8],[-36.6,-7.9],[-36,-7.8],[-35.2,-7.6],[-34.5,-7.1],[-33.9,-6.5],[-33.5,-5.7],[-34.1,-2.8],[-34.2,-1.8],[-34.2,-0.7],[-34.1,0.3],[-34,1.4],[-44.6,-10.1],[-44.1,-9.4],[-43.6,-8.7],[-43.1,-8.1],[-42.5,-7.8],[-41.9,-7.4],[-46,-12],[-45.4,-11.6]
]

const nonTrashByPanel = [originNonTrash, hidden1NonTrash, hidden2NonTrash, hidden3NonTrash]
const trashByPanel = [originTrash, hidden1Trash, hidden2Trash, hidden3Trash]

// axis limits and tick labels per panel
const xLimits = [[-44.8, 47.5], [-56.4, 39.8], [-50.2, 43.8], [-47.1, 39.2]]
const yLimits = [[-44, 47.4], [-49.4, 39.6], [-48.8, 43.7], [-34.6, 39.3]]
const xTicks = [
  [-40, -20, 0, 20, 40],
  [-40, -20, 0, 20],
  [-40, -20, 0, 20, 40],
  [-40, -30, -20, -10, 0, 10, 20, 30]
]
const yTicks = [
  [-40, -20, 0, 20, 40],
  [-40, -30, -20, -10, 0, 10, 20, 30],
  [-40, -20, 0, 20, 40],
  [-30, -20, -10, 0, 10, 20, 30]
]

const FONT = '"DejaVu Sans", sans-serif'
const INK = '#222'
const gridRects = [
  { left: 144, top: 104 },
  { left: 631, top: 104 },
  { left: 144, top: 484 },
  { left: 631, top: 484 }
]
const WIDTH = 406
const HEIGHT = 272
const roundDot = 'path://M5 0L5 0M5 10L5 10M5 1.5A3.5 3.5 0 1 1 5 8.5A3.5 3.5 0 1 1 5 1.5Z'
const thinDiamond = 'path://M3.5 0L7 5L3.5 10L0 5Z'

const axis = (i, limits, ticks) => ({
  type: 'value',
  gridIndex: i,
  z: 10,
  min: limits[i][0],
  max: limits[i][1],
  splitLine: { show: false },
  axisLine: { show: false, onZero: false },
  axisTick: { show: true, length: 4, customValues: ticks[i], lineStyle: { color: INK, width: 1 } },
  axisLabel: {
    customValues: ticks[i],
    color: '#000',
    fontSize: 10,
    fontFamily: FONT,
    margin: 5,
    formatter: v => String(v).replace('-', '\u2212')
  }
})

const series = []
panelTitles.forEach((name, i) => {
  series.push({
    name: 'Non-trash', type: 'scatter', xAxisIndex: i, yAxisIndex: i,
    data: nonTrashByPanel[i], symbol: 'circle', symbolSize: 8,
    itemStyle: { color: '#0000ff', opacity: 1 }, silent: true
  })
  series.push({
    name: 'Trash', type: 'scatter', xAxisIndex: i, yAxisIndex: i,
    data: trashByPanel[i], symbol: 'diamond', symbolSize: [8, 11],
    itemStyle: { color: '#ff0000', opacity: 1 }, silent: true
  })
})

// scatter only drops points outside the grid, it does not cut the symbols,
// so white strips and a frame go on top to get the same clipped edge
const edgeCover = []
gridRects.forEach((r, i) => {
  const strip = (x, y, width, height) => ({
    type: 'rect', z: 5, silent: true,
    shape: { x, y, width, height },
    style: { fill: '#fff' }
  })
  edgeCover.push(strip(r.left - 9, r.top - 9, WIDTH + 18, 9))
  edgeCover.push(strip(r.left - 9, r.top + HEIGHT, WIDTH + 18, 9))
  edgeCover.push(strip(r.left - 9, r.top, 9, HEIGHT))
  edgeCover.push(strip(r.left + WIDTH, r.top, 9, HEIGHT))
  edgeCover.push({
    type: 'rect', z: 6, silent: true,
    shape: { x: r.left + 0.5, y: r.top + 0.5, width: WIDTH, height: i < 2 ? HEIGHT - 1 : HEIGHT },
    style: { fill: 'none', stroke: INK, lineWidth: 1 }
  })
})

const chart = echarts.init(document.getElementById('chart'), null, { renderer: 'canvas' })
chart.setOption({
  animation: false,
  backgroundColor: '#fff',
  title: panelTitles.map((name, i) => ({
    text: name,
    left: gridRects[i].left + WIDTH / 2,
    top: gridRects[i].top - 15,
    padding: 0,
    z: 10,
    textAlign: 'center',
    textStyle: { color: '#000', fontSize: 12, fontWeight: 'normal', fontFamily: FONT }
  })),
  grid: gridRects.map(r => ({ left: r.left, top: r.top, width: WIDTH, height: HEIGHT, containLabel: false })),
  xAxis: panelTitles.map((_, i) => axis(i, xLimits, xTicks)),
  yAxis: panelTitles.map((_, i) => axis(i, yLimits, yTicks)),
  legend: {
    left: 637, top: 489, orient: 'vertical', z: 10,
    padding: [4, 3, 4, 8],
    itemWidth: 28, itemHeight: 10, itemGap: 6,
    selectedMode: false,
    backgroundColor: '#fff', borderColor: '#ccc', borderWidth: 1, borderRadius: 3,
    textStyle: { color: '#000', fontSize: 10, fontFamily: FONT },
    data: [
      { name: 'Non-trash', icon: roundDot },
      { name: 'Trash', icon: thinDiamond }
    ]
  },
  graphic: { elements: edgeCover },
  series
})
</script>
</body>
</html>
